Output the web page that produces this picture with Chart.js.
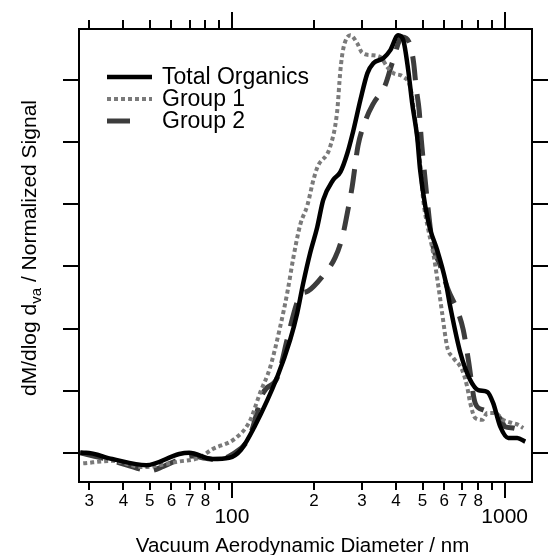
<!DOCTYPE html>
<html>
<head>
<meta charset="utf-8">
<script src="https://cdn.jsdelivr.net/npm/chart.js@4.4.1/dist/chart.umd.min.js"></script>
<style>
  html, body { margin: 0; padding: 0; background: #fff; }
  #wrap { width: 548px; height: 555px; }
</style>
</head>
<body>
<div id="wrap"><canvas id="chart"></canvas></div>
<script>
// vacuum aerodynamic diameter (nm) and normalized signal
const totalD = [27.8, 29.2, 36.4, 48.5, 64.1, 69.7, 84.7, 97.7, 108, 121, 146.6, 163.6, 173.6, 182.6, 193.7, 205.5, 216.2, 235, 250, 265, 279, 296, 314, 330, 359, 381, 407, 425, 443, 458, 478, 490, 512, 534, 566, 606, 632, 688, 748, 800, 864, 908, 964, 1031, 1112, 1190];
const totalV = [0.0, 0.0, -0.10, -0.20, -0.02, 0.0, -0.10, -0.08, 0.05, 0.42, 1.22, 1.82, 2.25, 2.73, 3.22, 3.63, 4.07, 4.39, 4.52, 4.82, 5.19, 5.68, 6.11, 6.27, 6.35, 6.48, 6.72, 6.64, 6.16, 5.63, 5.08, 4.55, 3.96, 3.59, 3.26, 2.78, 2.35, 1.61, 1.17, 1.01, 0.98, 0.80, 0.42, 0.24, 0.24, 0.18];

const group1D = [28.5, 36.4, 46.9, 64.1, 75.9, 85, 102, 116, 127, 138, 150, 160, 168, 178, 189, 199, 206, 229, 243, 250, 256, 272, 288, 300, 322, 350, 371, 391, 425, 451, 470, 490, 503, 525, 547, 572, 590, 616, 648, 699, 729, 748, 780, 828, 864, 924, 988, 1066, 1122, 1170];
const group1V = [-0.17, -0.13, -0.23, -0.14, -0.08, 0.06, 0.22, 0.50, 0.97, 1.37, 2.01, 2.60, 3.14, 3.67, 3.98, 4.39, 4.60, 4.92, 5.48, 6.16, 6.50, 6.72, 6.59, 6.44, 6.40, 6.37, 6.21, 6.11, 6.05, 5.88, 5.35, 4.66, 4.07, 3.59, 3.22, 2.67, 2.25, 1.70, 1.53, 1.33, 1.06, 0.80, 0.56, 0.53, 0.64, 0.64, 0.53, 0.48, 0.45, 0.40];

const group2D = [27.8, 36, 47, 50, 56, 63, 72, 80, 88, 100, 116, 130, 147, 160, 170, 178, 190, 214, 239, 254, 265, 276, 290, 309, 330, 365, 387, 421, 451, 464, 474, 486, 495, 507, 520, 543, 581, 621, 670, 705, 736, 780, 835, 900, 964, 1005, 1075, 1160, 1200];
const group2V = [0.0, -0.12, -0.27, -0.29, -0.22, -0.12, -0.05, -0.09, -0.11, -0.03, 0.26, 0.96, 1.22, 1.85, 2.30, 2.54, 2.60, 2.83, 3.14, 3.47, 3.86, 4.28, 4.94, 5.35, 5.62, 5.92, 6.27, 6.69, 6.56, 6.27, 5.87, 5.51, 5.03, 4.55, 4.07, 3.38, 3.01, 2.62, 2.30, 1.98, 1.50, 0.80, 0.69, 0.64, 0.55, 0.42, 0.40, 0.34, 0.29];

const seriesNames = ['Total Organics', 'Group 1', 'Group 2'];

// axis ticks
const xMajor = [100, 1000];
const xMinor = [30, 40, 50, 60, 70, 80, 90, 200, 300, 400, 500, 600, 700, 800, 900];
const xMinorLabels = ['3', '4', '5', '6', '7', '8', '', '2', '3', '4', '5', '6', '7', '8', ''];
const yTicks = [0, 1, 2, 3, 4, 5, 6];

const FONT = '"Liberation Sans", Arial, Helvetica, sans-serif';

function toPoints(d, v) {
    return d.map((x, i) => ({x: x, y: v[i]}));
}

const styles = [
    {color: '#000000', width: 4.5, dash: []},
    {color: '#7a7a7a', width: 4, dash: [4, 3]},
    {color: '#3c3c3c', width: 5, dash: [24, 14]}
];

const decorations = {
    id: 'decorations',
    afterDraw(chart) {
        const ctx = chart.ctx;
        const {left, right, top, bottom} = chart.chartArea;
        const xs = chart.scales.x;
        const ys = chart.scales.y;

        ctx.save();
        ctx.strokeStyle = '#000';
        ctx.lineWidth = 2;
        ctx.strokeRect(left, top, right - left, bottom - top);

        // x ticks, top and bottom
        ctx.beginPath();
        xMajor.forEach(v => {
            const px = Math.round(xs.getPixelForValue(v));
            ctx.moveTo(px, bottom); ctx.lineTo(px, bottom + 16);
            ctx.moveTo(px, top); ctx.lineTo(px, top - 17);
        });
        xMinor.forEach(v => {
            const px = Math.round(xs.getPixelForValue(v));
            ctx.moveTo(px, bottom); ctx.lineTo(px, bottom + 8);
            ctx.moveTo(px, top); ctx.lineTo(px, top - 9);
        });
        // y ticks, left and right
        yTicks.forEach(v => {
            const py = Math.round(ys.getPixelForValue(v));
            ctx.moveTo(left, py); ctx.lineTo(left - 16, py);
            ctx.moveTo(right, py); ctx.lineTo(right + 16, py);
        });
        ctx.stroke();

        // x tick labels
        ctx.fillStyle = '#000';
        ctx.textAlign = 'center';
        ctx.textBaseline = 'middle';
        ctx.font = '17px ' + FONT;
        xMinor.forEach((v, i) => {
            if (xMinorLabels[i]) {
                ctx.fillText(xMinorLabels[i], xs.getPixelForValue(v), bottom + 19);
            }
        });
        ctx.font = '21px ' + FONT;
        xMajor.forEach(v => {
            ctx.fillText(String(v), xs.getPixelForValue(v), bottom + 35);
        });

        // x title
        ctx.textBaseline = 'alphabetic';
        ctx.font = '20.5px ' + FONT;
        ctx.fillText('Vacuum Aerodynamic Diameter / nm', (left + right) / 2 - 3, 552);

        // y title with subscript
        const part1 = 'dM/dlog d';
        const sub = 'va';
        const part2 = ' / Normalized Signal';
        ctx.font = '21px ' + FONT;
        const w1 = ctx.measureText(part1).width;
        const w3 = ctx.measureText(part2).width;
        ctx.font = '15px ' + FONT;
        const w2 = ctx.measureText(sub).width;
        const total = w1 + w2 + w3;
        ctx.translate(36, 248);
        ctx.rotate(-Math.PI / 2);
        ctx.textAlign = 'left';
        ctx.font = '21px ' + FONT;
        ctx.fillText(part1, -total / 2, 0);
        ctx.font = '15px ' + FONT;
        ctx.fillText(sub, -total / 2 + w1, 5);
        ctx.font = '21px ' + FONT;
        ctx.fillText(part2, -total / 2 + w1 + w2, 0);
        ctx.restore();

        // legend
        ctx.save();
        const rowsY = [77, 99, 121];
        seriesNames.forEach((name, i) => {
            const st = styles[i];
            ctx.strokeStyle = st.color;
            ctx.lineWidth = st.width;
            ctx.setLineDash(i === 2 ? [23, 100] : st.dash);
            ctx.beginPath();
            ctx.moveTo(107, rowsY[i]);
            ctx.lineTo(152, rowsY[i]);
            ctx.stroke();
            ctx.setLineDash([]);
            ctx.fillStyle = '#000';
            ctx.font = '23px ' + FONT;
            ctx.textAlign = 'left';
            ctx.textBaseline = 'alphabetic';
            ctx.fillText(name, 162, rowsY[i] + 7);
        });
        ctx.restore();
    }
};

const seriesData = [
    toPoints(totalD, totalV),
    toPoints(group1D, group1V),
    toPoints(group2D, group2V)
];

new Chart(document.getElementById('chart'), {
    type: 'line',
    data: {
        datasets: seriesNames.map((name, i) => ({
            label: name,
            data: seriesData[i],
            borderColor: styles[i].color,
            borderWidth: styles[i].width,
            borderDash: styles[i].dash,
            borderCapStyle: 'butt',
            pointRadius: 0,
            fill: false,
            cubicInterpolationMode: 'monotone'
        }))
    },
    options: {
        responsive: true,
        maintainAspectRatio: false,
        animation: false,
        layout: {padding: {left: 79, right: 16, top: 29, bottom: 73}},
        plugins: {legend: {display: false}, tooltip: {enabled: false}},
        scales: {
            x: {type: 'logarithmic', min: 27.5, max: 1260, display: false},
            y: {type: 'linear', min: -0.47, max: 6.82, display: false}
        }
    },
    plugins: [decorations]
});
</script>
</body>
</html>
